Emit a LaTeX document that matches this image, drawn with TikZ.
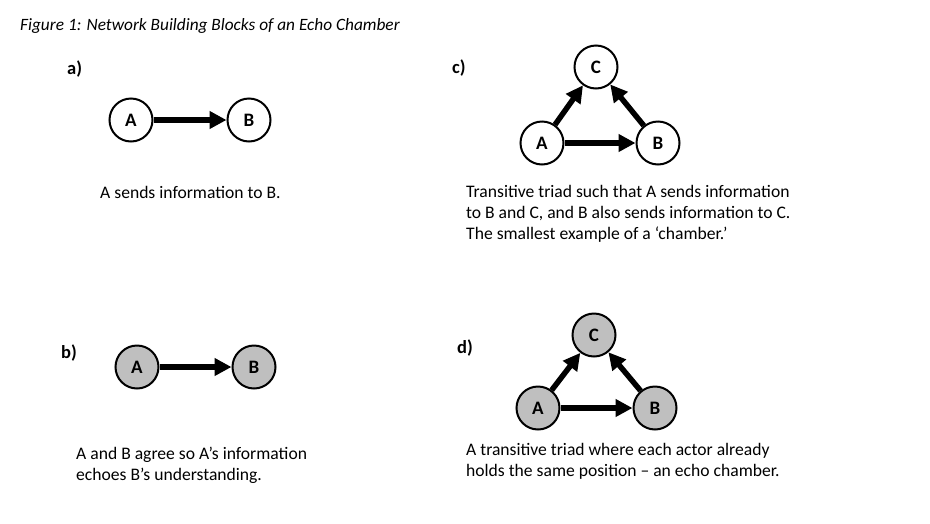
\documentclass[tikz,border=0pt]{standalone}
\usepackage{fontspec}
\setmainfont{Carlito}
\usetikzlibrary{arrows.meta}
\definecolor{nodegray}{RGB}{191,191,191}
\tikzset{
  agent/.style={circle, draw=black, line width=2pt, minimum size=43pt, inner sep=0pt, font=\fontsize{19}{21}\selectfont\bfseries},
  white agent/.style={agent, fill=white},
  gray agent/.style={agent, fill=nodegray},
  flow/.style={line width=5.5pt, -{Triangle[length=17pt,width=17pt]}},
  body/.style={anchor=base west, inner sep=0pt, font=\fontsize{17.6}{20}\selectfont},
  panel/.style={anchor=base west, inner sep=0pt, font=\fontsize{18.5}{20}\selectfont\bfseries}
}
\begin{document}
\begin{tikzpicture}[x=1pt,y=-1pt]
\useasboundingbox (0,0) rectangle (930,523);
\node[anchor=base west, inner sep=0pt, font=\fontsize{17.3}{19}\selectfont\itshape] (title) at (20,30) {Figure 1: Network Building Blocks of an Echo Chamber};

% panel a
\node[panel] (la) at (67,74) {a)};
\node[white agent] (aA) at (131,120) {A};
\node[white agent] (aB) at (249,120) {B};
\draw[flow] (aA) -- (aB);
\node[body] (ta) at (100,198) {A sends information to B.};

% panel c
\node[panel] (lc) at (452,73) {c)};
\node[white agent] (cC) at (596,67) {C};
\node[white agent] (cA) at (542,143) {A};
\node[white agent] (cB) at (658,143) {B};
\draw[flow] (cA) -- (cB);
\draw[flow] (cA) -- (cC);
\draw[flow] (cB) -- (cC);
\node[body] (tc1) at (466,197) {Transitive triad such that A sends information};
\node[body] (tc2) at (466,218) {to B and C, and B also sends information to C.};
\node[body] (tc3) at (466,239) {The smallest example of a ‘chamber.’};

% panel b
\node[panel] (lb) at (61,358) {b)};
\node[gray agent] (bA) at (137,367) {A};
\node[gray agent] (bB) at (254,367) {B};
\draw[flow] (bA) -- (bB);
\node[body] (tb1) at (76,459) {A and B agree so A’s information};
\node[body] (tb2) at (76,480) {echoes B’s understanding.};

% panel d
\node[panel] (ld) at (457,353) {d)};
\node[gray agent] (dC) at (594,335) {C};
\node[gray agent] (dA) at (538,408) {A};
\node[gray agent] (dB) at (655,408) {B};
\draw[flow] (dA) -- (dB);
\draw[flow] (dA) -- (dC);
\draw[flow] (dB) -- (dC);
\node[body] (td1) at (466,455) {A transitive triad where each actor already};
\node[body] (td2) at (466,476) {holds the same position – an echo chamber.};
\end{tikzpicture}
\end{document}
